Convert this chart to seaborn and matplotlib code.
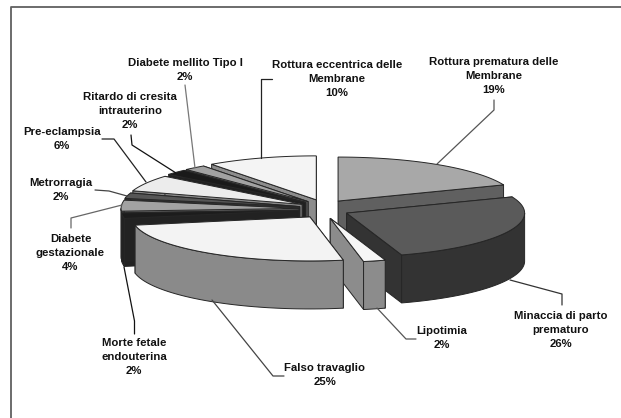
import numpy as np
import matplotlib
matplotlib.use("Agg")
import matplotlib.pyplot as plt
from matplotlib.patches import Polygon
import seaborn as sns

# Data
categories = ["Rottura prematura delle\nMembrane", "Minaccia di parto\nprematuro", "Lipotimia",
              "Falso travaglio", "Morte fetale\nendouterina", "Diabete\ngestazionale", "Metrorragia",
              "Pre-eclampsia", "Ritardo di cresita\nintrauterino", "Diabete mellito Tipo I",
              "Rottura eccentrica delle\nMembrane"]
values = [19, 26, 2, 25, 2, 4, 2, 6, 2, 2, 10]

# Styles and layout (top colour, side colour)
top_colors = ["#a8a8a8", "#5a5a5a", "#f6f6f6", "#f3f3f3", "#1c1c1c", "#a2a2a2", "#565656", "#ececec", "#1a1a1a", "#a2a2a2", "#f4f4f4"]
side_colors = ["#606060", "#333333", "#8c8c8c", "#8a8a8a", "#222222", "#5c5c5c", "#303030", "#888888", "#202020", "#606060", "#8c8c8c"]
draw_order = [10, 0, 9, 8, 7, 6, 5, 4, 1, 2, 3]
label_xy = [(494, 57), (561, 311), (442, 326), (325, 363), (134, 338), (70.5, 234), (61, 178),
            (62, 127), (130, 92), (185, 58), (337, 60)]
leaders = [[(494, 100), (494, 110), (437, 164)], [(562, 305), (562, 294), (510, 280)],
           [(416, 339), (406, 339), (377, 308)], [(284, 376), (273, 376), (212, 300)],
           [(134.5, 334), (134.5, 321), (124, 267)], [(71, 228), (71, 218), (122, 205)],
           [(95, 190), (109, 191), (127, 196)], [(102, 139), (114, 139), (146, 182)],
           [(131, 135), (132, 145), (176, 173)], [(185, 85), (195, 168)],
           [(272, 79), (261, 79), (261, 158)]]
leader_colors = ["#555555", "#333333", "#555555", "#444444", "#111111", "#666666", "#444444", "#222222", "#111111", "#777777", "#222222"]

sns.set_theme(style="white")
plt.rcParams["font.family"] = ["Liberation Sans", "DejaVu Sans"]

fig = plt.figure(figsize=(6.21, 4.18), dpi=100, facecolor="white")
ax = fig.add_axes([0, 0, 1, 1])
ax.set_xlim(0, 621)
ax.set_ylim(418, 0)
ax.axis("off")

CX, CY, RX, RY, DEPTH, EX, EY = 324, 209, 178, 44, 48, 25, 9.6
EDGE = "#262626"

# Chart frame: only the top and left lines fall inside the picture
ax.plot([11, 11, 621], [418, 6.7, 6.7], color="#606060", lw=1.3, zorder=0)

edges = np.cumsum([0] + values) / sum(values) * 2 * np.pi
order_z = {idx: 2 + rank for rank, idx in enumerate(draw_order)}

for i, v in enumerate(values):
    a1, a2 = edges[i], edges[i + 1]
    mid = (a1 + a2) / 2
    ax_x, ax_y = CX + EX * np.sin(mid), CY - EY * np.cos(mid)
    rim = lambda t: (ax_x + RX * np.sin(t), ax_y - RY * np.cos(t))
    z = order_z[i]
    # radial cut faces
    for a in (a1, a2):
        rx, ry = rim(a)
        ax.add_patch(Polygon([(ax_x, ax_y), (rx, ry), (rx, ry + DEPTH), (ax_x, ax_y + DEPTH)],
                             facecolor=side_colors[i], edgecolor=EDGE, lw=0.7, zorder=z))
    # outer wall, front half only
    lo, hi = max(a1, np.pi / 2), min(a2, 3 * np.pi / 2)
    if hi > lo:
        t = np.linspace(lo, hi, 60)
        xs, ys = rim(t)
        pts = list(zip(xs, ys)) + list(zip(xs[::-1], (ys + DEPTH)[::-1]))
        ax.add_patch(Polygon(pts, facecolor=side_colors[i], edgecolor=EDGE, lw=0.7, zorder=z))
    # top face
    t = np.linspace(a1, a2, 80)
    xs, ys = rim(t)
    ax.add_patch(Polygon([(ax_x, ax_y)] + list(zip(xs, ys)), facecolor=top_colors[i],
                         edgecolor=EDGE, lw=0.7, zorder=z))

for pts, col in zip(leaders, leader_colors):
    arr = np.array(pts)
    ax.plot(arr[:, 0], arr[:, 1], color=col, lw=0.9, zorder=30)

for name, v, (lx, ly) in zip(categories, values, label_xy):
    ax.text(lx, ly, f"{name}\n{v}%", ha="center", va="top", fontsize=8.2, fontweight="bold",
            color="#111111", linespacing=1.5, zorder=40)

fig.savefig("out.png", dpi=100, facecolor="white")
